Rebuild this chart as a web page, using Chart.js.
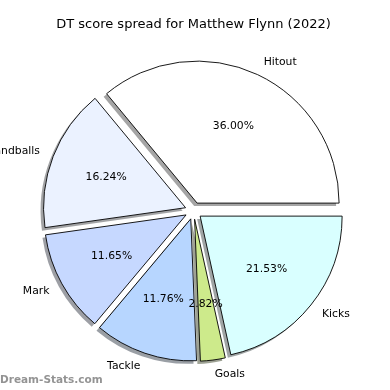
<!DOCTYPE html>
<html>
<head>
<meta charset="utf-8">
<script src="https://cdn.jsdelivr.net/npm/chart.js@4.4.1/dist/chart.umd.min.js"></script>
<style>
  html, body { margin: 0; padding: 0; background: #fff; }
  #wrap { width: 390px; height: 390px; position: relative; }
</style>
</head>
<body>
<div id="wrap"><canvas id="pie"></canvas></div>
<script>
// data (matplotlib order, counter-clockwise from 3 o'clock)
const categories = ['Hitout', 'Handballs', 'Mark', 'Tackle', 'Goals', 'Kicks']
const shares = [36.00, 16.24, 11.65, 11.76, 2.82, 21.53]
const colours = ['#ffffff', '#ebf2ff', '#c6d8ff', '#b7d6ff', '#cdea8b', '#d9ffff']

const explodePx = 8.5
const pieRadius = 142

// chart.js goes clockwise, so flip the order to get matplotlib's layout
const labelsCw = categories.slice().reverse()
const valuesCw = shares.slice().reverse()
const coloursCw = colours.slice().reverse()

const FONT = '"DejaVu Sans", Verdana, sans-serif'

// push every slice out along its middle angle (like explode in matplotlib)
// and paint a dark, half transparent copy of each slice underneath as shadow
const explode = {
    id: 'explode',
    beforeDatasetsDraw(chart) {
        const area = chart.chartArea
        const cx = (area.left + area.right) / 2
        const cy = (area.top + area.bottom) / 2
        const arcs = chart.getDatasetMeta(0).data
        arcs.forEach(arc => {
            const mid = (arc.startAngle + arc.endAngle) / 2
            arc.x = cx + Math.cos(mid) * explodePx
            arc.y = cy + Math.sin(mid) * explodePx
        })

        const ctx = chart.ctx
        ctx.save()
        ctx.translate(-3, 3)
        ctx.filter = 'brightness(0.3)'
        ctx.globalAlpha = 0.5
        arcs.forEach(arc => {
            const bw = arc.options.borderWidth
            arc.options.borderWidth = 0
            arc.draw(ctx)
            arc.options.borderWidth = bw
        })
        ctx.restore()
    }
}

// names outside, percentages inside, plus the watermark
const sliceText = {
    id: 'sliceText',
    afterDatasetsDraw(chart) {
        const ctx = chart.ctx
        const meta = chart.getDatasetMeta(0)
        const data = chart.data.datasets[0].data
        const total = data.reduce((a, b) => a + b, 0)
        ctx.save()
        ctx.fillStyle = '#000'
        meta.data.forEach((arc, i) => {
            const mid = (arc.startAngle + arc.endAngle) / 2
            const r = arc.outerRadius
            const c = Math.cos(mid), s = Math.sin(mid)
            ctx.font = '10.8px ' + FONT
            ctx.textBaseline = 'middle'
            ctx.textAlign = c >= 0 ? 'left' : 'right'
            ctx.fillText(chart.data.labels[i], arc.x + c * r * 1.1, arc.y + s * r * 1.1)
            ctx.textAlign = 'center'
            ctx.fillText((data[i] / total * 100).toFixed(2) + '%', arc.x + c * r * 0.6, arc.y + s * r * 0.6)
        })
        ctx.font = 'bold 10.5px ' + FONT
        ctx.fillStyle = 'rgba(120,120,120,0.8)'
        ctx.textAlign = 'left'
        ctx.textBaseline = 'middle'
        ctx.fillText('Dream-Stats.com', 0, 380)
        ctx.restore()
    }
}

new Chart(document.getElementById('pie'), {
    type: 'pie',
    data: {
        labels: labelsCw,
        datasets: [{
            data: valuesCw,
            backgroundColor: coloursCw,
            borderColor: '#000',
            borderWidth: 0.9,
            borderJoinStyle: 'miter'
        }]
    },
    options: {
        responsive: true,
        maintainAspectRatio: false,
        animation: false,
        rotation: 90,
        radius: pieRadius,
        layout: { padding: { left: 0, right: 3, top: 0, bottom: 11 } },
        plugins: {
            legend: { display: false },
            tooltip: { enabled: false },
            title: {
                display: true,
                text: 'DT score spread for Matthew Flynn (2022)',
                color: '#000',
                font: { family: FONT, size: 13, weight: 'normal' },
                padding: { top: 17, bottom: 10 }
            }
        }
    },
    plugins: [explode, sliceText]
})
</script>
</body>
</html>
